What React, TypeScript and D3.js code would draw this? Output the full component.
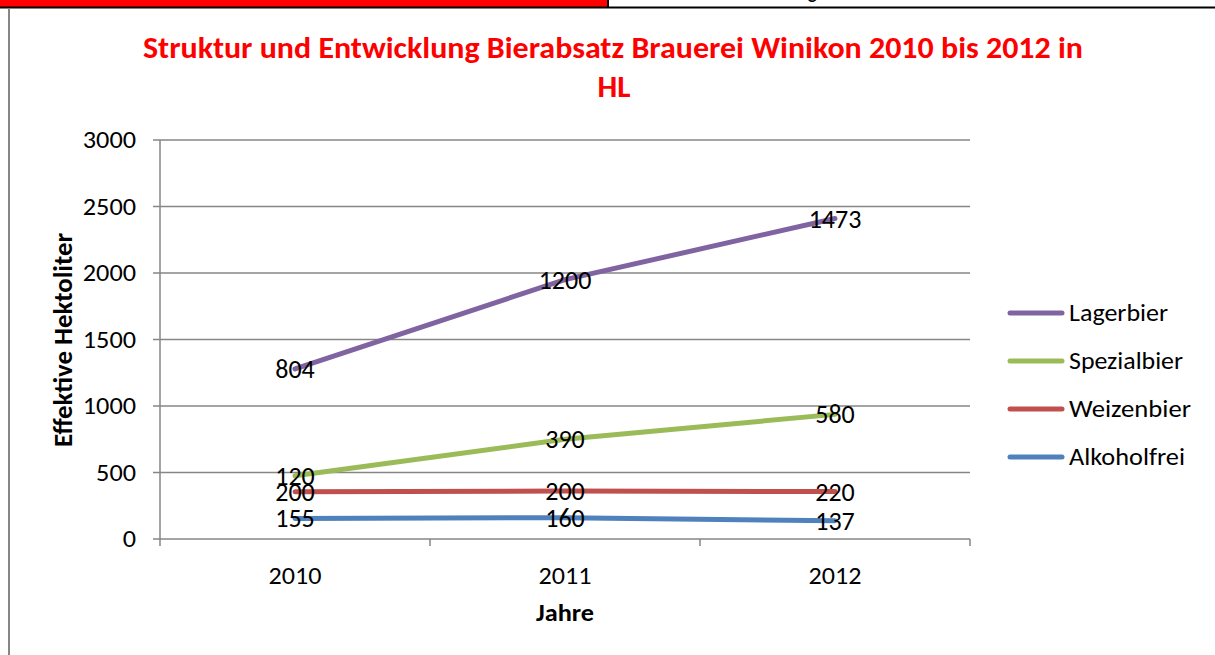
import React from "react";
import * as d3 from "d3";

const years = ["2010", "2011", "2012"];
const seriesNames = ["Alkoholfrei", "Weizenbier", "Spezialbier", "Lagerbier"];
const alkoholfrei = [155, 160, 137];
const weizenbier = [200, 200, 220];
const spezialbier = [120, 390, 580];
const lagerbier = [804, 1200, 1473];
const colors = ["#4F81BD", "#C0504D", "#9BBB59", "#8064A2"];
const yTicks = [0, 500, 1000, 1500, 2000, 2500, 3000];
const legendOrder = ["Lagerbier", "Spezialbier", "Weizenbier", "Alkoholfrei"];

const FONT = "Carlito, Lato, 'Open Sans', sans-serif";
const legendWidths: Record<string, number> = { Lagerbier: 99, Spezialbier: 114, Weizenbier: 122, Alkoholfrei: 116 };

export default function App() {
  const W = 1215, H = 655;
  const left = 160, right = 970, top = 140, bottom = 539;
  const x = d3.scaleBand<string>().domain(years).range([left, right]);
  const y = d3.scaleLinear().domain([0, 3000]).range([bottom, top]);

  const valuesBySeries = [alkoholfrei, weizenbier, spezialbier, lagerbier];
  const table = years.map((yr, i) => {
    const row: any = { year: yr };
    seriesNames.forEach((s, k) => (row[s] = valuesBySeries[k][i]));
    return row;
  });
  const stacked = d3.stack().keys(seriesNames)(table);
  const line = d3
    .line<any>()
    .x((d) => (x(d.data.year) as number) + x.bandwidth() / 2)
    .y((d) => y(d[1]));

  const grey = "#868686";

  return (
    <svg width={W} height={H} style={{ position: "absolute", left: 0, top: 0, background: "#fff" }}>
      <rect x={0} y={0} width={W} height={H} fill="#fff" />
      {/* top header strip */}
      <rect x={0} y={0} width={608} height={7} fill="#FF0000" />
      <line x1={0} x2={W} y1={7.5} y2={7.5} stroke="#000" strokeWidth={2} />
      <line x1={608} x2={608} y1={0} y2={7} stroke="#000" strokeWidth={2} />
      <text x={808} y={-1} fontFamily={FONT} fontWeight="bold" fontSize={18} fill="#000">g</text>
      {/* left frame */}
      <line x1={9} x2={9} y1={8} y2={H} stroke={grey} strokeWidth={2} />

      {/* title */}
      <text x={613} y={58} textAnchor="middle" fontFamily={FONT} fontWeight="bold" fontSize={31}
        fill="#FF0000" textLength={940} lengthAdjust="spacingAndGlyphs">
        Struktur und Entwicklung Bierabsatz Brauerei Winikon 2010 bis 2012 in
      </text>
      <text x={614} y={97} textAnchor="middle" fontFamily={FONT} fontWeight="bold" fontSize={31} fill="#FF0000"
        textLength={33} lengthAdjust="spacingAndGlyphs">
        HL
      </text>

      {/* gridlines */}
      {yTicks.map((t) => (
        <g key={t}>
          <line x1={left - 7} x2={right} y1={y(t)} y2={y(t)} stroke={grey} strokeWidth={1.5} />
          <text x={136} y={y(t)} dy="0.35em" textAnchor="end" fontFamily={FONT} fontSize={24} fill="#000"
            textLength={String(t).length * 13.3} lengthAdjust="spacingAndGlyphs">
            {t}
          </text>
        </g>
      ))}
      <line x1={left} x2={left} y1={top} y2={bottom} stroke={grey} strokeWidth={1.5} />
      {[...years.map((yr) => x(yr) as number), right].map((v, i) => (
        <line key={i} x1={v} x2={v} y1={bottom} y2={bottom + 7} stroke={grey} strokeWidth={1.5} />
      ))}
      {years.map((yr) => (
        <text key={yr} x={(x(yr) as number) + x.bandwidth() / 2} y={576} dy="0.35em" textAnchor="middle"
          fontFamily={FONT} fontSize={24} fill="#000" textLength={53} lengthAdjust="spacingAndGlyphs">
          {yr}
        </text>
      ))}
      <text x={565} y={613} dy="0.35em" textAnchor="middle" fontFamily={FONT} fontWeight="bold" fontSize={24}
        fill="#000" textLength={58} lengthAdjust="spacingAndGlyphs">
        Jahre
      </text>
      <text transform="translate(63,340) rotate(-90)" dy="0.35em" textAnchor="middle" fontFamily={FONT}
        fontWeight="bold" fontSize={27} fill="#000" textLength={214} lengthAdjust="spacingAndGlyphs">
        Effektive Hektoliter
      </text>

      {/* lines */}
      {stacked.map((s, k) => (
        <path key={s.key} d={line(s as any) as string} fill="none" stroke={colors[k]} strokeWidth={5}
          strokeLinecap="round" strokeLinejoin="round" />
      ))}
      {/* labels */}
      {stacked.map((s, k) =>
        s.map((d: any, i) => (
          <text key={s.key + i} x={(x(d.data.year) as number) + x.bandwidth() / 2} y={y(d[1])} dy="0.35em"
            textAnchor="middle" fontFamily={FONT} fontSize={26} fill="#000">
            {valuesBySeries[k][i]}
          </text>
        ))
      )}

      {/* legend */}
      {legendOrder.map((name, i) => {
        const k = seriesNames.indexOf(name);
        const ly = 313 + i * 48;
        return (
          <g key={name}>
            <line x1={1010} x2={1062} y1={ly} y2={ly} stroke={colors[k]} strokeWidth={5} strokeLinecap="round" />
            <text x={1069} y={ly} dy="0.35em" fontFamily={FONT} fontSize={24} fill="#000"
              textLength={legendWidths[name]} lengthAdjust="spacingAndGlyphs">
              {name}
            </text>
          </g>
        );
      })}
    </svg>
  );
}
